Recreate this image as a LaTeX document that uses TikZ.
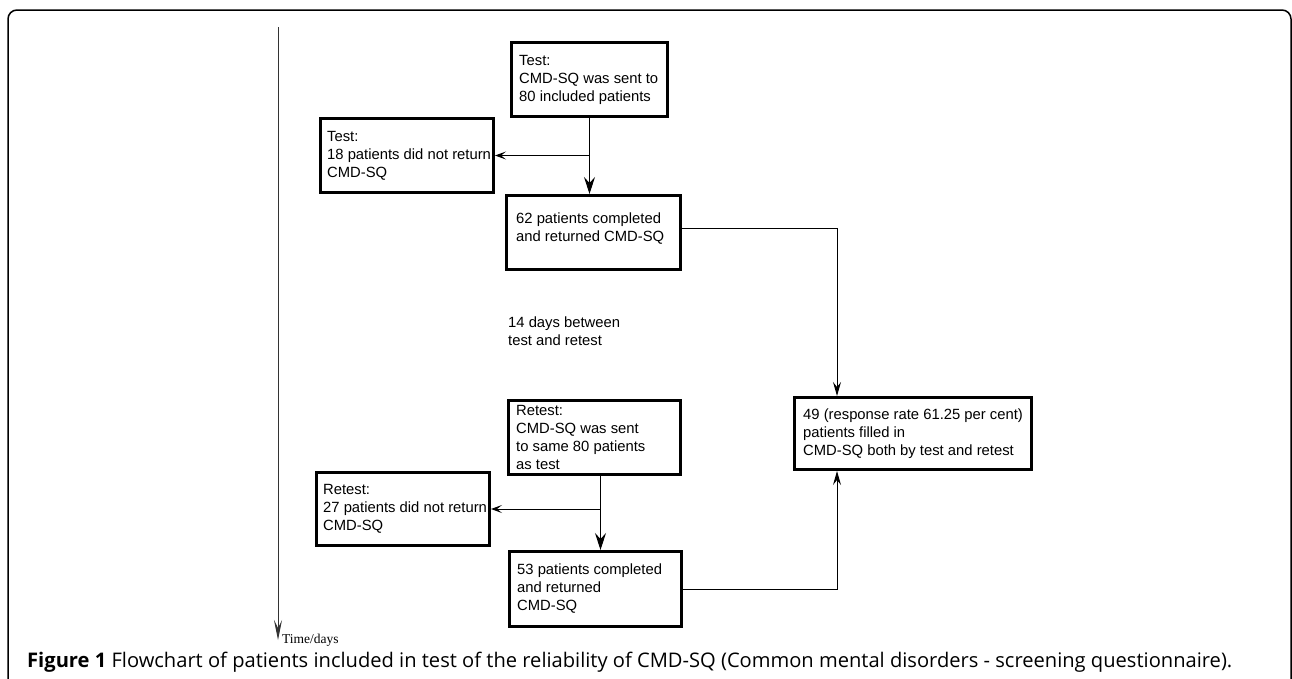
\documentclass[tikz,border=0pt]{standalone}
\usepackage{fontspec}
\setmainfont{Liberation Sans}
\newfontfamily\capfont{Open Sans}
\newfontfamily\serfont{Liberation Serif}
\usetikzlibrary{arrows.meta,calc}
\begin{document}
\begin{tikzpicture}[x=1pt,y=-1pt,
  box/.style={draw, line width=3pt, anchor=north west, inner sep=0pt},
  boxtext/.style={anchor=west, align=left, inner sep=0pt, font=\fontsize{14.8}{18}\selectfont},
  conn/.style={line width=1pt},
  bigarrow/.style={conn, -{Stealth[length=17pt,width=11pt,inset=6pt]}},
  smallarrow/.style={conn, -{Stealth[length=11pt,width=8pt,inset=5pt]}},
  medarrow/.style={conn, -{Stealth[length=14pt,width=8pt,inset=5pt]}},
]
\useasboundingbox (0,0) rectangle (1292,678);
% outer frame
\draw[line width=1.5pt, rounded corners=9pt] (8,679) -- (8,10) -- (1291,10) -- (1291,679);
% time axis
\coordinate (ttop) at (278,27);
\coordinate (tbot) at (278,640);
\draw[line width=1pt, black!80, -{Stealth[length=20pt,width=8pt,inset=8pt]}] (ttop) -- (tbot);
\node[anchor=base west, inner sep=0pt, font=\serfont\fontsize{13.5}{15}\selectfont] (time) at (282,643) {Time/days};
% boxes
\node[box, minimum width=156pt, minimum height=74pt] (A) at (510,41) {};
\node[boxtext] (At) at ([xshift=9pt]A.west) {Test:\\CMD-SQ was sent to\\80 included patients};
\node[box, minimum width=173pt, minimum height=74pt] (B) at (319,117) {};
\node[boxtext] (Bt) at ([xshift=8pt]B.west) {Test:\\18 patients did not return\\CMD-SQ};
\node[box, minimum width=174pt, minimum height=74pt] (C) at (505,194) {};
\node[boxtext] (Ct) at ([xshift=11pt,yshift=4pt]C.west) {62 patients completed\\and returned CMD-SQ};
\node[box, minimum width=237pt, minimum height=72pt] (D) at (793,396) {};
\node[boxtext] (Dt) at ([xshift=10pt]D.west) {49 (response rate 61.25 per cent)\\patients filled in\\CMD-SQ both by test and retest};
\node[box, minimum width=172pt, minimum height=74pt] (E) at (507,399) {};
\node[boxtext] (Et) at ([xshift=9pt]E.west) {Retest:\\CMD-SQ was sent\\to same 80 patients\\as test};
\node[box, minimum width=173pt, minimum height=73pt] (F) at (315,471) {};
\node[boxtext] (Ft) at ([xshift=8pt]F.west) {Retest:\\27 patients did not return\\CMD-SQ};
\node[box, minimum width=172pt, minimum height=75pt] (G) at (508,550) {};
\node[boxtext] (Gt) at ([xshift=9pt]G.west) {53 patients completed\\and returned\\CMD-SQ};
% free text
\node[boxtext] (gap) at (508,331.5) {14 days between\\test and retest};
% connectors
\draw[bigarrow] (A.south) -- (A.south |- C.north);
\draw[smallarrow] (A.south |- B.east) -- (B.east);
\draw[medarrow] ([yshift=4pt]C.east) -| ([xshift=44pt]D.north west);
\draw[bigarrow] ([xshift=6pt]E.south) -- ([xshift=6pt]E.south |- G.north);
\draw[smallarrow] ([xshift=6pt]E.south |- F.east) -- (F.east);
\draw[medarrow] (G.east) -| ([xshift=44pt]D.south west);
% caption
\node[anchor=base west, inner sep=0pt, font=\capfont\fontsize{18.5}{22}\selectfont] (cap) at (27,667) {\resizebox{1205pt}{!}{\textbf{Figure 1} Flowchart of patients included in test of the reliability of CMD-SQ (Common mental disorders - screening questionnaire).}};
\end{tikzpicture}
\end{document}
